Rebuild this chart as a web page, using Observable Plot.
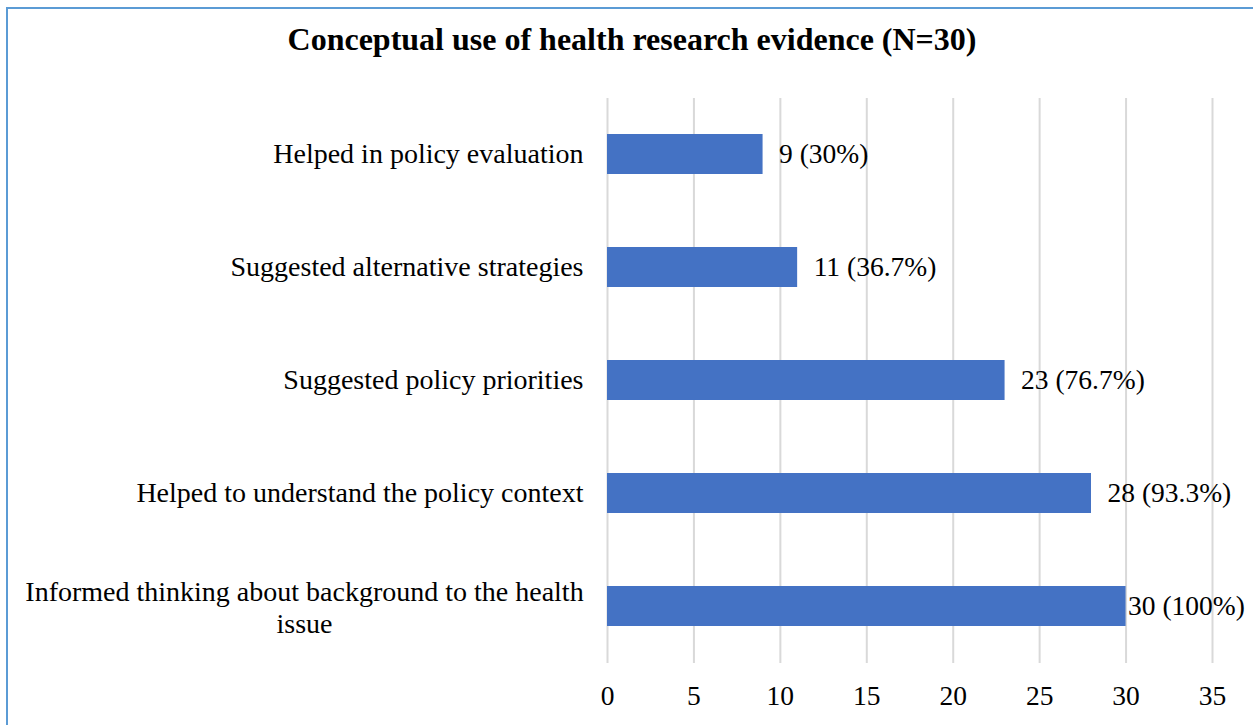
<!DOCTYPE html>
<html>
<head>
<meta charset="utf-8">
<script src="https://cdn.jsdelivr.net/npm/d3@7"></script>
<script src="https://cdn.jsdelivr.net/npm/@observablehq/plot@0.6"></script>
<style>
  html, body { margin: 0; padding: 0; background: #fff; }
  #wrap { position: relative; width: 1253px; height: 725px; overflow: hidden; font-family: "Liberation Serif", "Times New Roman", serif; }
  #frame { position: absolute; left: 6px; top: 7px; width: 1260px; height: 730px; border-left: 2px solid #5B9BD5; border-top: 2px solid #5B9BD5; box-sizing: border-box; }
  #title { position: absolute; left: 0; width: 1264px; top: 23px; text-align: center; font-weight: bold; font-size: 32px; line-height: 32px; color: #000; }
  #chart { position: absolute; left: 0; top: 0; }
</style>
</head>
<body>
<div id="wrap">
  <div id="frame"></div>
  <div id="chart"></div>
  <div id="title">Conceptual use of health research evidence (N=30)</div>
</div>
<script>
const categories = [
  "Helped in policy evaluation",
  "Suggested alternative strategies",
  "Suggested policy priorities",
  "Helped to understand the policy context",
  "Informed thinking about background to the health\nissue"
];
const counts = [9, 11, 23, 28, 30];
const labels = ["9 (30%)", "11 (36.7%)", "23 (76.7%)", "28 (93.3%)", "30 (100%)"];
const xTicks = [0, 5, 10, 15, 20, 25, 30, 35];

const data = categories.map((c, i) => ({category: c, count: counts[i], label: labels[i]}));
const maxCount = d3.max(counts);
const multiLine = data.filter(d => d.category.includes("\n"));

const chart = Plot.plot({
  width: 1253,
  height: 725,
  marginLeft: 607,
  marginRight: 41,
  marginTop: 98,
  marginBottom: 62,
  style: {fontFamily: '"Liberation Serif", "Times New Roman", serif', background: "transparent", color: "#000"},
  x: {domain: [0, 35], ticks: xTicks},
  y: {domain: categories, paddingInner: 0.646, paddingOuter: 0.323},
  marks: [
    Plot.gridX(xTicks, {stroke: "#d9d9d9", strokeOpacity: 1, strokeWidth: 2}),
    Plot.barX(data, {x: "count", y: "category", fill: "#4472C4"}),
    Plot.axisX({ticks: xTicks, tickSize: 0, tickPadding: 22, fontSize: 27.5, label: null, fill: "#000"}),
    Plot.axisY({tickSize: 0, tickPadding: 24, fontSize: 28, label: null,
      tickFormat: d => d.includes("\n") ? "" : d, fill: "#000"}),
    Plot.text(multiLine, {x: 0, y: "category", text: "category", textAnchor: "middle",
      dx: -303, fontSize: 28, lineHeight: 1.15, fill: "#000"}),
    Plot.text(data.filter(d => d.count < maxCount), {x: "count", y: "category", text: "label",
      textAnchor: "start", dx: 16, fontSize: 27.5, fill: "#000"}),
    Plot.text(data.filter(d => d.count === maxCount), {x: "count", y: "category", text: "label",
      textAnchor: "start", dx: 2, fontSize: 27.5, fill: "#000"})
  ]
});
document.getElementById("chart").appendChild(chart);
</script>
</body>
</html>
